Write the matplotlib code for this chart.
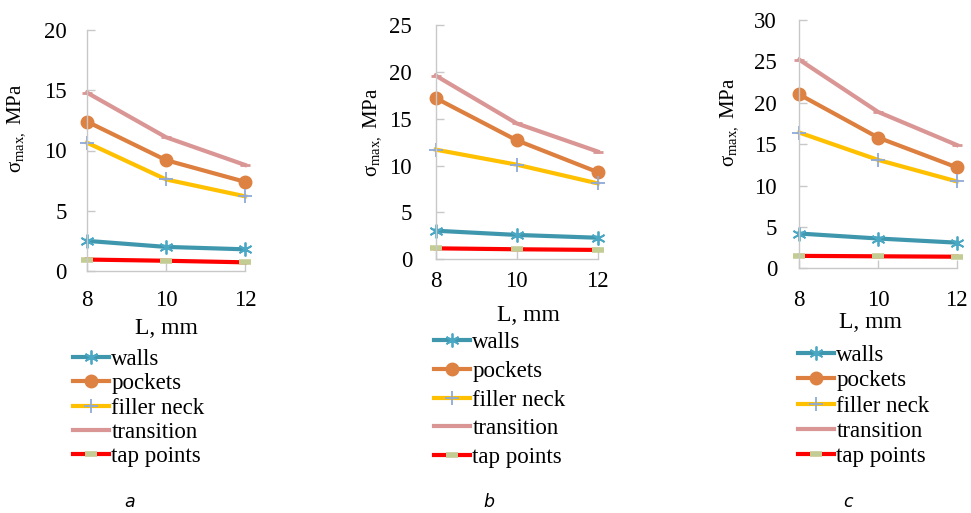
import matplotlib
matplotlib.use('Agg')
from matplotlib import pyplot as plt

plt.rcParams['font.family'] = 'serif'
plt.rcParams['font.serif'] = ['Liberation Serif', 'DejaVu Serif']
plt.rcParams['mathtext.fontset'] = 'custom'
plt.rcParams['mathtext.rm'] = 'Liberation Serif'
plt.rcParams['mathtext.it'] = 'Liberation Serif:italic'

L = [8, 10, 12]
series_names = ['walls', 'pockets', 'filler neck', 'transition', 'tap points']

# sigma_max, MPa for each panel
walls_a = [2.5, 2.0, 1.8]
pockets_a = [12.4, 9.2, 7.4]
filler_a = [10.65, 7.6, 6.2]
transition_a = [14.8, 11.1, 8.8]
tap_a = [0.95, 0.85, 0.72]

walls_b = [3.05, 2.6, 2.3]
pockets_b = [17.2, 12.7, 9.3]
filler_b = [11.7, 10.1, 8.1]
transition_b = [19.6, 14.5, 11.5]
tap_b = [1.17, 1.07, 1.0]

walls_c = [4.2, 3.6, 3.1]
pockets_c = [21.0, 15.8, 12.2]
filler_c = [16.4, 13.1, 10.5]
transition_c = [25.2, 18.9, 14.9]
tap_c = [1.5, 1.45, 1.4]

y_max = [20, 25, 30]
y_step = 5
panel_letters = ['a', 'b', 'c']

W, H = 971, 513
# axes boxes in pixels: left, right, top, bottom
boxes = [(87, 245, 30, 271), (435.7, 597.7, 25, 259.3), (799.3, 956.7, 20, 268.3)]
xpads = [13.5, 8.5, 15.5]
ypads = [14.5, 17, 16]
xlab_pos = [(0.5, -0.195), (0.57, -0.195), (0.45, -0.176)]
ylab_pos = [(-0.38, 0.59), (-0.325, 0.543), (-0.377, 0.589)]
leg_pos = [(73, 408), (434, 400), (798, 406)]
leg_space = [0.13, 0.33, 0.18]
letter_x = [130, 489, 848]

styles = [
    dict(color='#3F97AE', marker=(6, 2, 0), ms=10, mec='#4BA8C4', mew=1.3),
    dict(color='#DD7F3E', marker='o', ms=9, mfc='#DD8242', mec='#DD8242'),
    dict(color='#FFC000', marker='+', ms=10, mec='#8EA9DB', mew=1.3),
    dict(color='#D99694', marker='_', ms=7, mec='#D99694', mew=2),
    dict(color='#FF0000', marker='_', ms=9, mec='#C3CC92', mew=4),
]

data = [
    [walls_a, pockets_a, filler_a, transition_a, tap_a],
    [walls_b, pockets_b, filler_b, transition_b, tap_b],
    [walls_c, pockets_c, filler_c, transition_c, tap_c],
]

fig = plt.figure(figsize=(W / 100, H / 100), dpi=100)

for i in range(3):
    l, r, t, b = boxes[i]
    ax = fig.add_axes([l / W, 1 - b / H, (r - l) / W, (b - t) / H])
    for name, vals, st in zip(series_names, data[i], styles):
        ax.plot(L, vals, lw=3, label=name, clip_on=False, **st)
    ax.set_xlim(8, 12)
    ax.set_ylim(0, y_max[i])
    ax.set_xticks(L)
    ax.set_yticks(range(0, y_max[i] + 1, y_step))
    for s in ['top', 'right']:
        ax.spines[s].set_visible(False)
    for s in ['left', 'bottom']:
        ax.spines[s].set_color('#C8C8C8')
        ax.spines[s].set_linewidth(1)
    ax.tick_params(direction='in', length=6, width=1, color='#C8C8C8', labelsize=16.5)
    ax.tick_params(axis='x', pad=xpads[i])
    ax.tick_params(axis='y', pad=ypads[i])
    ax.set_xlabel('L, mm', fontsize=17)
    ax.xaxis.set_label_coords(*xlab_pos[i])
    ax.set_ylabel(r'σ$_{\mathrm{max},}$ MPa', fontsize=15)
    ax.yaxis.set_label_coords(*ylab_pos[i])
    lx, ly = leg_pos[i]
    ax.legend(loc='center left', bbox_to_anchor=(lx / W, 1 - ly / H),
              bbox_transform=fig.transFigure, frameon=False, fontsize=16.5,
              handlelength=1.55, handletextpad=0.12, borderpad=0, borderaxespad=0,
              labelspacing=leg_space[i], numpoints=1)
    fig.text(letter_x[i] / W, 1 - 502 / H, panel_letters[i], fontsize=12.5,
             style='italic', family='DejaVu Sans', ha='center', va='center')

fig.savefig('out.png', dpi=100)
